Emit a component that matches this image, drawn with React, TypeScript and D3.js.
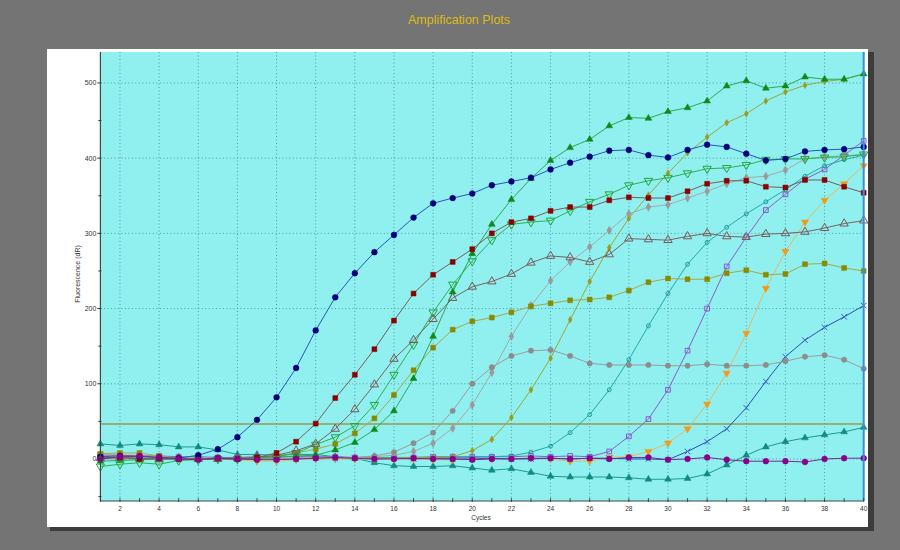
import React from "react";
import * as d3 from "d3";

const cycles = d3.range(1, 41);

const navy = [3,4,3,2,1,5,13,29,52,82,121,171,215,247,275,298,321,340,347,353,364,369,374,385,394,402,410,411,404,401,411,418,415,406,397,399,409,411,412,415];
const red = [2,2,0,1,0,0,1,0,2,8,23,47,81,112,146,184,220,245,262,279,300,315,320,330,335,335,344,348,347,347,356,366,370,370,362,361,371,371,362,354];
const rosyTri = [1,2,1,0,1,0,0,1,2,5,11,20,40,66,99,133,158,186,214,229,236,246,261,270,268,262,272,293,292,291,296,300,296,295,299,300,302,307,313,317];
const greenDown = [-10,-7,-5,-7,-2,-1,0,0,1,3,8,19,29,44,72,112,152,195,232,263,291,312,315,317,330,342,352,364,370,374,380,386,387,391,398,399,399,401,402,405];
const greenUp = [-3,-2,-1,0,0,0,0,0,1,2,4,5,12,22,39,64,107,163,222,273,312,345,373,397,414,425,443,454,453,462,467,476,496,503,493,496,508,505,505,512];
const oliveSq = [7,8,8,4,1,1,0,0,1,3,8,13,20,34,54,85,118,148,172,183,188,195,203,207,211,212,215,224,235,240,239,239,247,251,245,246,259,260,254,250];
const greyA = [1,1,0,0,1,0,0,0,1,0,1,1,2,2,4,9,21,35,64,100,122,137,144,145,137,127,125,125,125,124,124,126,124,124,125,130,136,138,132,120];
const greyB = [0,0,1,0,0,1,0,0,0,0,1,1,1,2,3,5,10,21,41,72,115,163,204,237,262,282,304,326,335,338,347,356,366,374,376,384,399,402,403,405];
const yellowGreen = [2,1,0,0,1,0,0,1,0,0,1,0,1,0,1,1,2,2,3,11,26,55,92,134,185,236,281,320,351,380,407,428,447,459,476,488,497,502,505,512];
const tealCirc = [1,1,0,0,0,0,1,0,0,0,1,1,1,1,1,2,2,2,2,2,3,4,9,17,35,59,92,132,177,220,259,288,308,326,342,358,376,390,398,404];
const purpleSq = [5,5,4,4,3,3,2,2,3,3,3,3,3,2,2,2,2,3,3,3,3,3,4,3,4,3,10,30,53,92,144,200,256,295,331,352,372,385,404,423];
const orangeDown = [6,6,5,3,1,0,0,-1,-3,-3,-1,0,0,0,0,0,0,-1,-1,0,0,1,1,0,-3,-3,2,3,10,21,40,73,114,167,227,276,315,344,366,390];
const blueX = [2,1,1,0,0,0,1,0,1,0,0,1,1,1,0,1,0,1,0,0,1,0,0,1,0,1,1,0,0,-1,10,23,40,68,103,136,158,175,189,204];
const tealTri = [20,18,20,19,16,16,12,6,6,5,6,6,3,1,-5,-9,-10,-10,-9,-12,-15,-13,-18,-23,-24,-24,-24,-25,-27,-27,-26,-20,-8,5,16,23,28,32,36,42];
const magenta = [0,3,4,2,0,-1,1,0,-1,-1,0,1,2,1,0,0,1,0,0,-1,0,0,1,1,0,1,0,2,2,-1,0,2,-1,-3,-3,-3,-4,0,1,1];

const yTicks = [0, 100, 200, 300, 400, 500];
const yMinorTicks = [-50, 50, 150, 250, 350, 450];
const xLabelTicks = d3.range(2, 41, 2);
const threshold = 46.5;

type Shape = "circle" | "square" | "triUp" | "triDown" | "diamond" | "x";
interface Series { values: number[]; line: string; marker: string; shape: Shape; open?: boolean; size?: number; }

const series: Series[] = [
  { values: tealTri, line: "#1f9a90", marker: "#128a80", shape: "triUp", size: 20 },
  { values: orangeDown, line: "#e8b860", marker: "#f29a18", shape: "triDown", size: 22 },
  { values: blueX, line: "#2f4fb8", marker: "#3a5ad0", shape: "x", size: 22 },
  { values: purpleSq, line: "#8a5fc8", marker: "#8a55d0", shape: "square", open: true, size: 22 },
  { values: tealCirc, line: "#28a8a8", marker: "#1c9c9c", shape: "circle", open: true, size: 12 },
  { values: yellowGreen, line: "#9aa83a", marker: "#9a9a20", shape: "diamond", size: 13 },
  { values: greyB, line: "#a8a8a8", marker: "#9a9a9a", shape: "diamond", size: 20 },
  { values: greyA, line: "#9c9c9c", marker: "#8c8c8c", shape: "circle", size: 22 },
  { values: oliveSq, line: "#a8a84a", marker: "#8a8a00", shape: "square", size: 24 },
  { values: greenUp, line: "#30a850", marker: "#0e8a1a", shape: "triUp", size: 20 },
  { values: greenDown, line: "#2eb050", marker: "#22a83a", shape: "triDown", open: true, size: 30 },
  { values: rosyTri, line: "#7a6262", marker: "#7a5a5a", shape: "triUp", open: true, size: 30 },
  { values: red, line: "#7a5c5c", marker: "#8b0000", shape: "square", size: 24 },
  { values: navy, line: "#2a56b8", marker: "#00007a", shape: "circle", size: 26 },
  { values: magenta, line: "#7a2a8a", marker: "#8b008b", shape: "circle", size: 26 },
];

const x = d3.scaleLinear().domain([1, 40]).range([100.4, 863.7]);
const y = d3.scaleLinear().domain([-55.9, 541.2]).range([501, 52]);

const PX0 = x(1), PX1 = x(40), PY0 = y(541.2), PY1 = y(-55.9);

function markerPath(shape: Shape, size: number): string {
  if (shape === "circle") return d3.symbol(d3.symbolCircle, size)() as string;
  if (shape === "square") return d3.symbol(d3.symbolSquare, size)() as string;
  if (shape === "diamond") return d3.symbol(d3.symbolDiamond, size)() as string;
  if (shape === "triUp" || shape === "triDown") return d3.symbol(d3.symbolTriangle, size)() as string;
  return d3.symbol(d3.symbolTimes, size)() as string;
}

export default function App() {
  const line = d3.line<number>().x((_, i) => x(cycles[i])).y((v) => y(v));
  const font = "'Liberation Sans', Arial, sans-serif";
  return (
    <svg width={900} height={550} style={{ position: "absolute", left: 0, top: 0, display: "block" }}>
      <rect x={0} y={0} width={900} height={550} fill="#747474" />
      <text x={459} y={24} textAnchor="middle" fontFamily={font} fontSize={12.5} fill="#dcbc14">Amplification Plots</text>
      <rect x={50} y={52} width={824} height={479} fill="#3c3c3c" />
      <rect x={47} y={49} width={821} height={478} fill="#ffffff" />
      <rect x={PX0} y={PY0} width={PX1 - PX0} height={PY1 - PY0} fill="#8ff0ef" />
      {xLabelTicks.filter((c) => c < 40).map((c) => (
        <line key={"gx" + c} x1={x(c)} x2={x(c)} y1={PY0} y2={PY1} stroke="#4f8f99" strokeWidth={0.9} strokeDasharray="1,2.5" />
      ))}
      {yTicks.map((t) => (
        <line key={"gy" + t} x1={PX0} x2={PX1} y1={y(t)} y2={y(t)} stroke="#4f8f99" strokeWidth={0.9} strokeDasharray="1,2.5" />
      ))}
      <line x1={PX0} x2={PX1} y1={y(threshold)} y2={y(threshold)} stroke="#9a9a50" strokeWidth={1.3} />
      <g>
        {series.map((s, si) => (
          <g key={"s" + si}>
            <path d={line(s.values) as string} fill="none" stroke={s.line} strokeWidth={1} />
            {s.values.map((v, i) => {
              const cx = x(cycles[i]);
              const cy = y(v);
              const size = s.size ?? 24;
              const rot = s.shape === "triDown" ? " rotate(180)" : "";
              const isX = s.shape === "x";
              return (
                <path
                  key={i}
                  d={markerPath(s.shape, size)}
                  transform={`translate(${cx},${cy})${rot}`}
                  fill={s.open || isX ? "none" : s.marker}
                  stroke={s.marker}
                  strokeWidth={s.open || isX ? 1 : 0.5}
                />
              );
            })}
          </g>
        ))}
      </g>
      <line x1={PX0} x2={PX0} y1={PY0} y2={PY1} stroke="#3a4a4a" strokeWidth={1.2} />
      <line x1={PX0} x2={PX1} y1={PY1} y2={PY1} stroke="#3a4a4a" strokeWidth={1.2} />
      <line x1={PX1} x2={PX1} y1={PY0} y2={PY1} stroke="#3a90d8" strokeWidth={2} />
      {yTicks.map((t) => (
        <g key={"yt" + t}>
          <line x1={PX0 - 3} x2={PX0 + 1} y1={y(t)} y2={y(t)} stroke="#333" strokeWidth={1} />
          <text x={PX0 - 4} y={y(t) + 2.5} textAnchor="end" fontFamily={font} fontSize={7} fill="#333">{t}</text>
        </g>
      ))}
      {yMinorTicks.map((t) => (
        <line key={"ym" + t} x1={PX0 - 2} x2={PX0 + 1} y1={y(t)} y2={y(t)} stroke="#333" strokeWidth={1} />
      ))}
      {cycles.map((c) => (
        <line key={"xt" + c} x1={x(c)} x2={x(c)} y1={PY1 - 3} y2={PY1 + 1} stroke="#333" strokeWidth={0.8} />
      ))}
      {xLabelTicks.map((c) => (
        <text key={"xl" + c} x={x(c)} y={PY1 + 9.5} textAnchor="middle" fontFamily={font} fontSize={6.5} fill="#333">{c}</text>
      ))}
      <text x={481} y={519.5} textAnchor="middle" fontFamily={font} fontSize={6.5} fill="#333">Cycles</text>
      <text transform={`translate(80,274) rotate(-90)`} textAnchor="middle" fontFamily={font} fontSize={7} fill="#333">Fluorescence (dR)</text>
    </svg>
  );
}
